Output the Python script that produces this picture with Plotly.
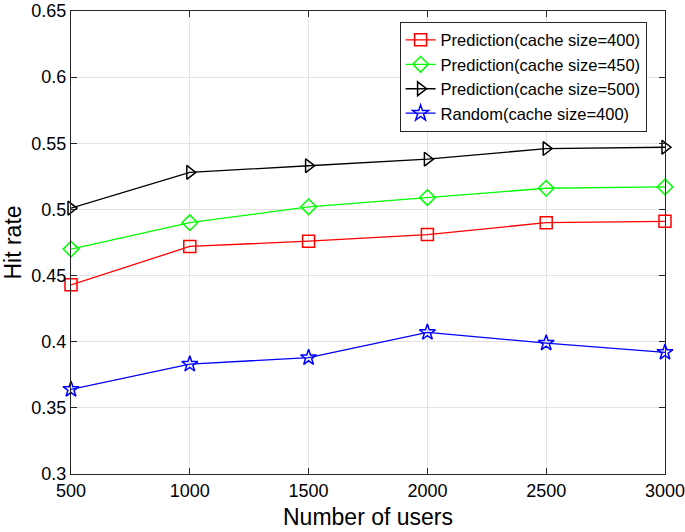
import plotly.graph_objects as go

users = [500, 1000, 1500, 2000, 2500, 3000]
pred_400 = [0.443, 0.472, 0.476, 0.481, 0.490, 0.491]
pred_450 = [0.470, 0.490, 0.502, 0.509, 0.516, 0.517]
pred_500 = [0.501, 0.528, 0.533, 0.538, 0.546, 0.547]
random_400 = [0.364, 0.383, 0.388, 0.407, 0.399, 0.392]

series = [
    ("Prediction(cache size=400)", pred_400, "#ff0000", "square-open"),
    ("Prediction(cache size=450)", pred_450, "#00ff00", "diamond-open"),
    ("Prediction(cache size=500)", pred_500, "#000000", "triangle-right-open"),
    ("Random(cache size=400)", random_400, "#0000ff", "star-open"),
]

FONT = "Liberation Sans, Arial, Helvetica"

fig = go.Figure()
for name, vals, color, sym in series:
    fig.add_trace(go.Scatter(
        x=users, y=vals, name=name, mode="lines+markers",
        line=dict(color=color, width=1.3),
        marker=dict(symbol=sym, size=12, color=color, line=dict(width=1.5, color=color)),
        cliponaxis=False,
    ))

axis_common = dict(
    showline=True, linecolor="#262626", linewidth=1, mirror="ticks",
    ticks="inside", ticklen=6, tickcolor="#262626",
    showgrid=True, gridcolor="#e3e3e3", gridwidth=1, zeroline=False,
    automargin=False, ticklabeloverflow="allow",
    tickfont=dict(family=FONT, size=18, color="#000000"),
)

fig.update_xaxes(range=[500, 3000], tickvals=users, ticktext=[str(u) for u in users],
                 title=dict(text="Number of users", font=dict(family=FONT, size=23, color="#000"), standoff=9),
                 **axis_common)
fig.update_yaxes(range=[0.3, 0.65], tickvals=[0.3, 0.35, 0.4, 0.45, 0.5, 0.55, 0.6, 0.65],
                 ticktext=["0.3", "0.35", "0.4", "0.45", "0.5", "0.55", "0.6", "0.65"],
                 title=dict(text="Hit rate", font=dict(family=FONT, size=23, color="#000"), standoff=4),
                 **axis_common)

fig.update_layout(
    width=685, height=532,
    margin=dict(l=71, r=20, t=11, b=58),
    plot_bgcolor="white", paper_bgcolor="white",
    legend=dict(x=0.969, y=0.977, xanchor="right", yanchor="top",
                bgcolor="white", bordercolor="#262626", borderwidth=1,
                font=dict(family=FONT, size=16.5, color="#000")),
)

fig.write_html("out.html", config={"displayModeBar": False},
               post_script="document.body.style.margin='0';")
